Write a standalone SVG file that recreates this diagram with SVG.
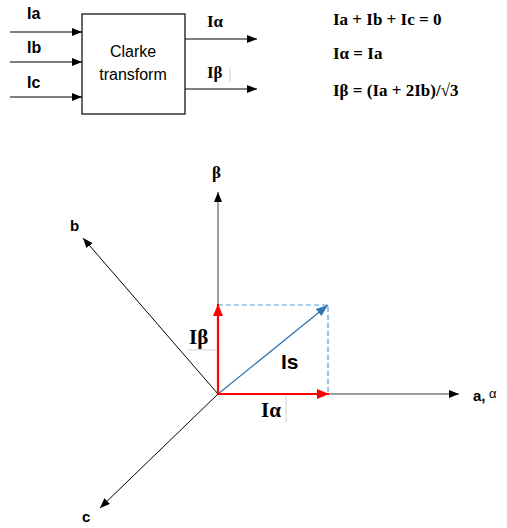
<svg xmlns="http://www.w3.org/2000/svg" width="507" height="528" viewBox="0 0 507 528">
<defs>
<marker id="ah" markerWidth="10" markerHeight="8" refX="10" refY="4" orient="auto" markerUnits="userSpaceOnUse"><path d="M0,0 L10,4 L0,8 Z" fill="#000"/></marker>
<marker id="ahr" markerWidth="12" markerHeight="10" refX="12" refY="5" orient="auto" markerUnits="userSpaceOnUse"><path d="M0,0 L12,5 L0,10 Z" fill="#ff0000"/></marker>
<marker id="ahb" markerWidth="12" markerHeight="9" refX="12" refY="4.5" orient="auto" markerUnits="userSpaceOnUse"><path d="M0,0 L12,4.5 L0,9 Z" fill="#2e75b6"/></marker>
</defs>
<style>
.sb{font-family:"Liberation Sans",Arial,sans-serif;font-weight:bold;fill:#000}
.sn{font-family:"Liberation Sans",Arial,sans-serif;fill:#000}
.mb{font-family:"Liberation Serif","DejaVu Serif",serif;font-weight:bold;fill:#000}
.ln{stroke:#000;stroke-width:1.2;fill:none}
.ax{stroke:#7f7f7f;stroke-width:1.5;fill:none}
.red{stroke:#ff0000;stroke-width:2.2;fill:none}
.art{stroke:#d0d0d0;stroke-width:1;fill:none}
</style>
<rect width="507" height="528" fill="#fff"/>
<g id="clarke">
<rect x="82" y="14" width="103" height="100" fill="#fff" stroke="#000" stroke-width="1.2"/>
<text class="sn" x="133" y="57" font-size="16" text-anchor="middle">Clarke</text>
<text class="sn" x="133" y="80" font-size="16" text-anchor="middle">transform</text>
</g>
<g id="labels">
<text class="sb" x="27" y="19" font-size="16">Ia</text>
<text class="sb" x="27" y="53" font-size="16">Ib</text>
<text class="sb" x="27" y="88" font-size="16">Ic</text>
<text class="mb" x="207" y="27" font-size="17">Iα</text>
<text class="mb" x="207" y="78" font-size="17">Iβ</text>
<line class="art" x1="230" y1="67" x2="230" y2="82"/>
</g>
<g id="equations">
<text class="mb" x="333" y="25" font-size="17">Ia + Ib + Ic = 0</text>
<text class="mb" x="333" y="59" font-size="17">Iα = Ia</text>
<text class="mb" x="333" y="96" font-size="17">Iβ = (Ia + 2Ib)/√3</text>
</g>
<g id="connectors">
<line class="ln" x1="10" y1="32" x2="82" y2="32" marker-end="url(#ah)"/>
<line class="ln" x1="10" y1="62" x2="82" y2="62" marker-end="url(#ah)"/>
<line class="ln" x1="10" y1="97" x2="82" y2="97" marker-end="url(#ah)"/>
<line class="ln" x1="185" y1="39" x2="257" y2="39" marker-end="url(#ah)"/>
<line class="ln" x1="185" y1="89" x2="257" y2="89" marker-end="url(#ah)"/>
</g>
<g id="phasor">
<line class="ax" x1="218" y1="394" x2="218" y2="192" marker-end="url(#ah)"/>
<line class="ax" x1="218" y1="394" x2="459" y2="394" marker-end="url(#ah)"/>
<line stroke="#000" stroke-width="1" x1="218" y1="394" x2="83" y2="238" marker-end="url(#ah)"/>
<line stroke="#000" stroke-width="1" x1="218" y1="394" x2="100" y2="508" marker-end="url(#ah)"/>
<path d="M218,305 H328 V394" fill="none" stroke="#5b9bd5" stroke-width="1.2" stroke-dasharray="5,3"/>
<line stroke="#2e75b6" stroke-width="1.2" x1="218" y1="394" x2="328" y2="305" marker-end="url(#ahb)"/>
<line class="red" x1="218" y1="394" x2="218" y2="304" marker-end="url(#ahr)"/>
<line class="red" x1="218" y1="394" x2="329" y2="394" marker-end="url(#ahr)"/>
<line class="art" x1="188" y1="350" x2="217" y2="350"/>
<line class="art" x1="286" y1="396" x2="286" y2="422"/>
</g>
<g id="phasor-labels">
<text class="mb" x="212" y="178" font-size="17">β</text>
<text class="sb" x="70" y="231" font-size="15">b</text>
<text class="sb" x="82" y="522" font-size="15">c</text>
<text class="sb" x="473" y="401" font-size="15">a,</text>
<text class="sn" x="489" y="398" font-size="13">α</text>
<text class="mb" x="189" y="344" font-size="21">Iβ</text>
<text class="sb" x="281" y="369" font-size="21">Is</text>
<text class="mb" x="261" y="417" font-size="21">Iα</text>
</g>
</svg>
